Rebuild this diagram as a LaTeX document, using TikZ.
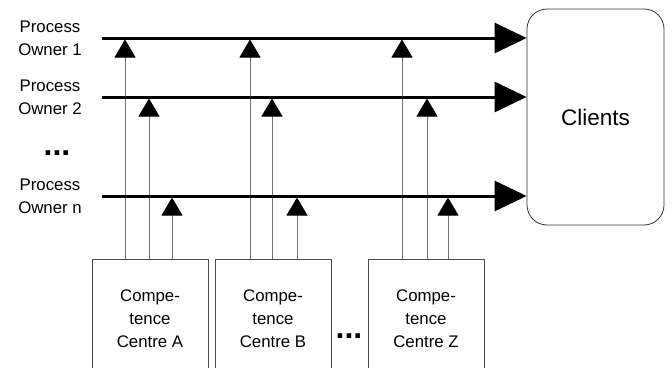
\documentclass[tikz,border=0pt]{standalone}
\usepackage{fontspec}
\setmainfont{Liberation Sans}
\usetikzlibrary{arrows.meta,positioning}

\begin{document}
\begin{tikzpicture}[x=1pt,y=-1pt,
	owner/.style={align=center, font=\fontsize{16.8}{23}\selectfont},
	centre/.style={draw=black!70, line width=0.8pt, minimum width=116pt, minimum height=120pt,
		align=center, font=\fontsize{16.8}{23}\selectfont},
	flow/.style={line width=3pt, -{Triangle[length=32pt,width=30pt]}},
	feed/.style={draw=black!55, line width=1pt, shorten >=1.5pt,
		-{Triangle[length=18pt,width=21pt,color=black]}},
	more/.style={font=\fontsize{32}{32}\bfseries\selectfont, inner sep=0pt}]

% frame %{{{2

	\clip (0,0) rectangle (672,367);

% owners %{{{2

	\node[owner] (owner1) at (50,38) {Process\\Owner 1};
	\node[owner] (owner2) at (50,97) {Process\\Owner 2};
	\node[owner] (ownern) at (50,196) {Process\\Owner n};
	\node[more] (dotsL) at (57,153) {...};

	\coordinate (po1) at (102,38);
	\coordinate (po2) at (102,97);
	\coordinate (pon) at (102,196);

% clients %{{{2

	\node[draw=black!80, line width=0.8pt, rounded corners=20pt, minimum width=137pt,
		minimum height=216pt, font=\fontsize{22.5}{26}\selectfont] (clients) at (595.5,117) {Clients};

% competence centres %{{{2

	\node[centre] (ccA) at (150,319) {Compe-\\tence\\Centre A};
	\node[centre] (ccB) at (273,319) {Compe-\\tence\\Centre B};
	\node[centre] (ccZ) at (426,319) {Compe-\\tence\\Centre Z};
	\node[more] (dotsC) at (349,336) {...};

% feeds %{{{2

	\foreach \b/\x/\l in {ccA/125/po1, ccA/149/po2, ccA/172/pon,
		ccB/250/po1, ccB/272/po2, ccB/297/pon,
		ccZ/402/po1, ccZ/427/po2, ccZ/448/pon} {
		\draw[feed] (\x,0 |- \b.north) -- (\x,0 |- \l);
	}

% flows %{{{2

	\draw[flow] (po1) -- (po1 -| clients.west);
	\draw[flow] (po2) -- (po2 -| clients.west);
	\draw[flow] (pon) -- (pon -| clients.west);

\end{tikzpicture}
\end{document}
